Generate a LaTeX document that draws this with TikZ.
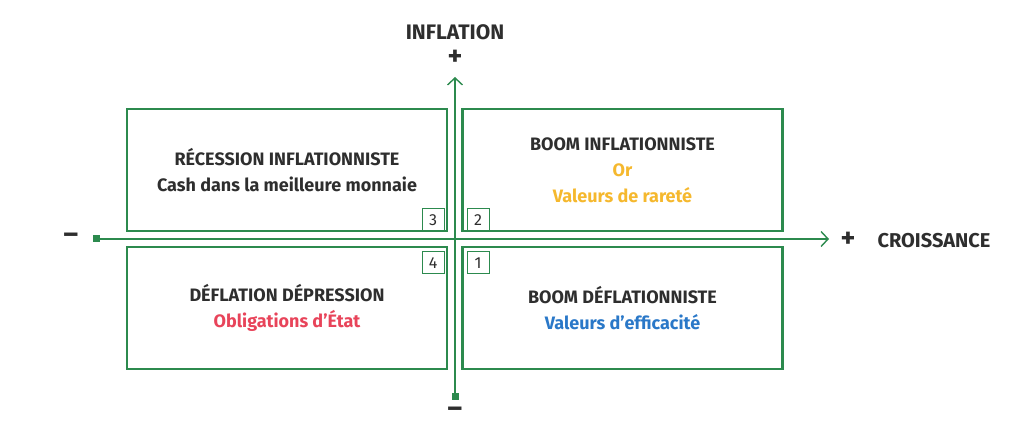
\documentclass[tikz,border=0pt]{standalone}
\usepackage{fontspec}
\setmainfont{Fira Sans}
\usetikzlibrary{arrows.meta}
\definecolor{grn}{HTML}{2C8A4E}
\definecolor{txt}{HTML}{2E2E2E}
\definecolor{org}{HTML}{F5B82E}
\definecolor{rd}{HTML}{E8445A}
\definecolor{bl}{HTML}{2A78C8}
\tikzset{
 quad/.style={draw=grn,line width=2.8pt,minimum width=320pt,minimum height=122pt,inner sep=0},
 num/.style={draw=grn,line width=1pt,minimum size=22pt,inner sep=0,font=\fontsize{16}{16}\selectfont,text=txt},
 lbl/.style={font=\bfseries\fontsize{18}{26}\selectfont,text=txt,align=center},
 axis/.style={draw=grn,line width=1.4pt}
}
\begin{document}
\begin{tikzpicture}[x=1pt,y=-1pt]
\useasboundingbox (0,0) rectangle (1027,435);
\node[quad] (q3) at (287,170) {};
\node[quad] (q2) at (622.5,170) {};
\node[quad] (q4) at (287,308) {};
\node[quad] (q1) at (622.5,308) {};
\node[lbl] at (q3) {RÉCESSION INFLATIONNISTE\\Cash dans la meilleure monnaie};
\node[lbl] at (q2) {BOOM INFLATIONNISTE\\\textcolor{org}{Or}\\\textcolor{org}{Valeurs de rareté}};
\node[lbl] at (q4) {DÉFLATION DÉPRESSION\\\textcolor{rd}{Obligations d’État}};
\node[lbl] at (q1) {BOOM DÉFLATIONNISTE\\\textcolor{bl}{Valeurs d’efficacité}};
\node[num] (n3) at (433,220) {3};
\node[num] (n2) at (478,220) {2};
\node[num] (n4) at (433,263) {4};
\node[num] (n1) at (478,263) {1};
\coordinate (xl) at (96,239);
\coordinate (xr) at (829,239);
\coordinate (yb) at (455,396);
\coordinate (yt) at (455,77);
\draw[axis,-{Straight Barb[length=7pt,width=15pt]}] (xl) -- (xr);
\draw[axis,-{Straight Barb[length=7pt,width=15pt]}] (yb) -- (yt);
\fill[grn] (xl) ++(-3.5,-3.5) rectangle ++(7,7);
\fill[grn] (yb) ++(-3.5,-3.5) rectangle ++(7,7);
\node[lbl,font=\bfseries\fontsize{21}{22}\selectfont] (ti) at (455,32) {INFLATION};
\node[lbl,font=\bfseries\fontsize{28}{28}\selectfont] (tp) at (455,58) {+};
\node[lbl,font=\bfseries\fontsize{28}{28}\selectfont] (bm) at (455,412) {–};
\node[lbl,font=\bfseries\fontsize{28}{28}\selectfont] (lm) at (71,238) {–};
\node[lbl,font=\bfseries\fontsize{28}{28}\selectfont] (rp) at (848,240) {+};
\node[lbl,font=\bfseries\fontsize{20}{22}\selectfont] (cr) at (934,241) {CROISSANCE};
\end{tikzpicture}
\end{document}
